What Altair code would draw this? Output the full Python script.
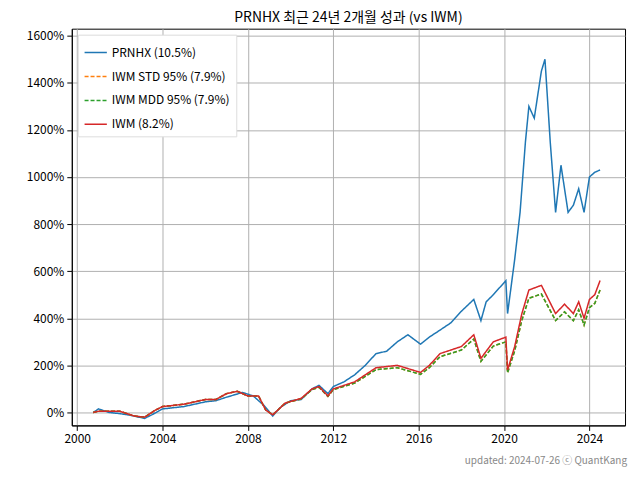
import altair as alt
import pandas as pd

# quarterly-ish points (cumulative return, %)
prnhx_dates = ['2000-10', '2001-01', '2001-07', '2002-01', '2002-07', '2003-01', '2003-03', '2003-07', '2004-01',
               '2004-07', '2005-01', '2006-01', '2006-07', '2007-01', '2007-10', '2008-04', '2008-10', '2009-03',
               '2009-07', '2010-01', '2010-07', '2011-01', '2011-05', '2011-10', '2012-01', '2012-07', '2013-01',
               '2013-07', '2014-01', '2014-07', '2015-01', '2015-07', '2016-02', '2016-07', '2017-01', '2017-07',
               '2018-01', '2018-08', '2018-12', '2019-03', '2019-07', '2020-02', '2020-03', '2020-07', '2020-10',
               '2021-01', '2021-03', '2021-06', '2021-10', '2021-12', '2022-03', '2022-06', '2022-09', '2023-01',
               '2023-04', '2023-07', '2023-10', '2024-01', '2024-04', '2024-07']
prnhx_vals = [0, 15, 0, -5, -12, -22, -25, -10, 15,
              20, 25, 45, 50, 65, 85, 70, 30, -15,
              20, 50, 55, 100, 115, 80, 110, 130, 160,
              200, 250, 260, 300, 330, 290, 320, 350, 380,
              430, 480, 390, 470, 500, 560, 420, 650, 850,
              1150, 1300, 1250, 1450, 1500, 1150, 850, 1050, 850,
              880, 950, 850, 1000, 1020, 1030]

iwm_dates = ['2000-10', '2001-01', '2002-01', '2002-09', '2003-03', '2003-09', '2004-01', '2005-01', '2006-01',
             '2006-07', '2007-01', '2007-07', '2008-01', '2008-07', '2008-11', '2009-03', '2009-10', '2010-07',
             '2011-01', '2011-05', '2011-10', '2012-01', '2013-01', '2014-01', '2015-01', '2016-02', '2016-07',
             '2017-01', '2018-01', '2018-08', '2018-12', '2019-07', '2020-02', '2020-03', '2020-07', '2020-11',
             '2021-03', '2021-10', '2022-06', '2022-11', '2023-04', '2023-07', '2023-10', '2024-01', '2024-04',
             '2024-07']
iwm_vals = [0, 5, 5, -15, -20, 10, 25, 35, 55,
            55, 80, 90, 70, 70, 10, -10, 40, 60,
            100, 110, 70, 100, 130, 190, 200, 170, 200,
            250, 280, 330, 230, 300, 320, 180, 280, 420,
            520, 540, 420, 460, 420, 470, 400, 480, 500,
            560]
iwm_adj_vals = [0, 5, 5, -15, -20, 10, 25, 35, 55,
                55, 80, 90, 70, 70, 10, -10, 40, 58,
                97, 107, 68, 97, 125, 182, 190, 162, 190,
                237, 265, 312, 217, 282, 300, 168, 262, 392,
                485, 503, 390, 427, 390, 436, 371, 445, 463,
                520]

series = ['PRNHX (10.5%)', 'IWM STD 95% (7.9%)', 'IWM MDD 95% (7.9%)', 'IWM (8.2%)']
colors = ['#1f77b4', '#ff7f0e', '#2ca02c', '#d62728']

rows = [{'date': d, 'v': v / 100, 's': series[0]} for d, v in zip(prnhx_dates, prnhx_vals)]
rows += [{'date': d, 'v': v / 100, 's': series[1]} for d, v in zip(iwm_dates, iwm_adj_vals)]
rows += [{'date': d, 'v': v / 100, 's': series[2]} for d, v in zip(iwm_dates, iwm_adj_vals)]
rows += [{'date': d, 'v': v / 100, 's': series[3]} for d, v in zip(iwm_dates, iwm_vals)]
df = pd.DataFrame(rows)

W, H = 555, 398

lines = alt.Chart(df).mark_line(strokeWidth=1.5).encode(
    x=alt.X('date:T', scale=alt.Scale(domain=['1999-10-01', '2025-09-01']),
            axis=alt.Axis(title=None, format='%Y', values=[f'{y}-01-01' for y in range(2000, 2025, 4)])),
    y=alt.Y('v:Q', scale=alt.Scale(domain=[-0.55, 16.3], nice=False),
            axis=alt.Axis(title=None, format='.0%', values=[i * 2 for i in range(9)])),
    color=alt.Color('s:N', scale=alt.Scale(domain=series, range=colors),
                    legend=alt.Legend(title=None, orient='top-left', symbolType='stroke', symbolSize=500,
                                      labelFontSize=12, fillColor='white', strokeColor='#dddddd',
                                      padding=6, rowPadding=6, offset=6)),
    strokeDash=alt.StrokeDash('s:N', scale=alt.Scale(domain=series, range=[[1, 0], [4, 2], [4, 2], [1, 0]]),
                              legend=None),
    order=alt.Order('ord:Q'),
).transform_calculate(ord="indexof(['IWM MDD 95% (7.9%)','IWM STD 95% (7.9%)','PRNHX (10.5%)','IWM (8.2%)'], datum.s)")

footer = alt.Chart(pd.DataFrame({'t': ['updated: 2024-07-26 ⓒ QuantKang']})).mark_text(
    align='right', fontSize=10, color='#888888').encode(
    x=alt.value(W + 2), y=alt.value(H + 36), text='t:N')

chart = alt.layer(lines, footer).properties(
    width=W, height=H,
    title=alt.Title('PRNHX 최근 24년 2개월 성과 (vs IWM)', fontSize=14, fontWeight='normal', offset=4),
    padding={'left': 18, 'top': 2, 'right': 5, 'bottom': 5},
).configure(font='Noto Sans CJK KR').configure_axis(
    grid=True, gridColor='#b0b0b0', domainColor='black', tickColor='black',
    labelFontSize=12, labelColor='black', labelPadding=3,
).configure_view(stroke='black')

chart.save("out.html", embed_options={"renderer": "svg", "actions": False})
